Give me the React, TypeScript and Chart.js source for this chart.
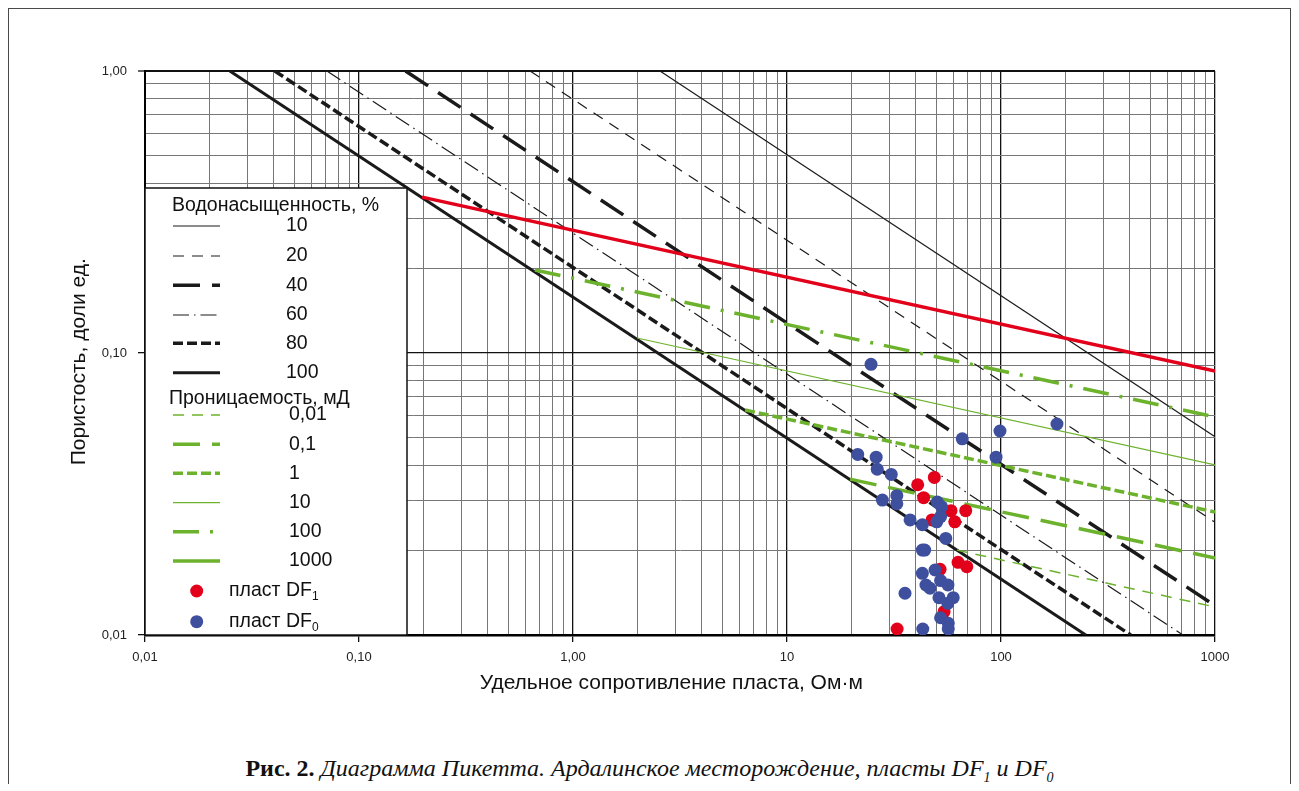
import React, { useEffect, useRef } from 'react';
import { Chart, registerables } from 'chart.js';

Chart.register(...registerables);

// ---------- data ----------
// Water saturation (Archie) lines: start point at porosity 1.0 and end point at the plot edge
const swLevels = ['10', '20', '40', '60', '80', '100'];
const swStart = [[2.55, 1.0], [0.63, 1.0], [0.165, 1.0], [0.0708, 1.0], [0.0404, 1.0], [0.0249, 1.0]];
const swEnd = [[1000, 0.0505], [1000, 0.0251], [1000, 0.0127], [708, 0.01], [404, 0.01], [249, 0.01]];

// Permeability lines (start on the 100 % line, end at the right edge)
const permLevels = ['0,01', '0,1', '1', '10', '100', '1000'];
const permStart = [[62.2, 0.02], [19.7, 0.0357], [6.37, 0.0628], [1.99, 0.113], [0.664, 0.197]];
const permEnd = [[1000, 0.01257], [1000, 0.01875], [1000, 0.0273], [1000, 0.0401], [1000, 0.0593]];

// Red boundary line
const redStart = [0.197, 0.357];
const redEnd = [1000, 0.0863];

// Samples: plast DF1 (red)
const df1Resistivity = [48.8, 40.8, 43.5, 58.4, 68.4, 47.6, 60.8, 63.0, 69.2, 51.9, 54.2, 32.7];
const df1Porosity = [0.0362, 0.0341, 0.0307, 0.0276, 0.0276, 0.0256, 0.0252, 0.0181, 0.01747, 0.0171, 0.0121, 0.0105];

// Samples: plast DF0 (blue)
const df0Resistivity = [24.7, 98.9, 65.9, 94.8, 21.4, 26.1, 26.4, 30.7, 27.9, 32.6, 32.6, 37.6, 42.9, 50.4, 52.8, 52.2, 50.1, 55.2, 42.9, 44.0, 42.9, 49.2, 44.6, 46.6, 52.2, 56.5, 35.6, 51.3, 59.8, 56.4, 52.2, 56.7, 56.7, 43.1, 182.6];
const df0Porosity = [0.0912, 0.0529, 0.0496, 0.0427, 0.0437, 0.0427, 0.0387, 0.0371, 0.0301, 0.0312, 0.0292, 0.0256, 0.0246, 0.0296, 0.0285, 0.0263, 0.0252, 0.022, 0.02, 0.02, 0.01655, 0.017, 0.01504, 0.01465, 0.0156, 0.01504, 0.01406, 0.01356, 0.01356, 0.01295, 0.01151, 0.011, 0.0105, 0.0105, 0.056];

const xTickValues = [0.01, 0.1, 1, 10, 100, 1000];
const xTickLabels = ['0,01', '0,10', '1,00', '10', '100', '1000'];
const yTickValues = [0.01, 0.1, 1];
const yTickLabels = ['0,01', '0,10', '1,00'];

// ---------- styles ----------
const BLACK = '#1a1a1a';
const GREEN = '#6cb22c';
const RED = '#e2001a';
const BLUE = '#3e4f9e';
const THIN = 1.2;
const THICK = 3.5;

const swStyles = [
  { color: BLACK, width: THIN, dash: [] as number[] },
  { color: BLACK, width: THIN, dash: [11, 8] },
  { color: BLACK, width: THICK, dash: [27, 12] },
  { color: BLACK, width: THIN, dash: [16, 5, 1.5, 5] },
  { color: BLACK, width: THICK, dash: [10, 4] },
  { color: BLACK, width: 3, dash: [] as number[] },
];
const permStyles = [
  { color: GREEN, width: 1.5, dash: [11, 8] },
  { color: GREEN, width: THICK, dash: [27, 12] },
  { color: GREEN, width: THICK, dash: [10, 4] },
  { color: GREEN, width: THIN, dash: [] as number[] },
  { color: GREEN, width: THICK, dash: [26, 11, 3, 11] },
  { color: GREEN, width: THICK, dash: [] as number[] },
];

const FONT = '"Liberation Sans", Arial, sans-serif';
const LEGEND_FONT = '19.5px ' + FONT;

function pt(p: number[]) {
  return { x: p[0], y: p[1] };
}

function logGrid(minExp: number, maxExp: number) {
  const out: { value: number }[] = [];
  for (let e = minExp; e < maxExp; e++) {
    for (let k = 1; k < 10; k++) out.push({ value: Number((k * Math.pow(10, e)).toPrecision(6)) });
  }
  out.push({ value: Math.pow(10, maxExp) });
  return out;
}

function isDecade(v: number | undefined) {
  if (v === undefined || v <= 0) return false;
  const l = Math.log10(v);
  return Math.abs(l - Math.round(l)) < 1e-6;
}

function labelFor(values: number[], labels: string[], v: number) {
  const i = values.findIndex((t) => Math.abs(t - v) / t < 1e-6);
  return i >= 0 ? labels[i] : '';
}

const legendPlugin = {
  id: 'pickettLegend',
  afterDatasetsDraw(chart: any) {
    const ctx: CanvasRenderingContext2D = chart.ctx;
    const { left, bottom } = chart.chartArea;
    const bx = left;
    const by = 180;
    const bw = 262;
    const bh = bottom - by;
    ctx.save();
    ctx.fillStyle = '#ffffff';
    ctx.fillRect(bx, by, bw, bh);
    ctx.strokeStyle = '#111';
    ctx.lineWidth = 1.5;
    ctx.setLineDash([]);
    ctx.strokeRect(bx, by, bw, bh);

    ctx.fillStyle = '#111';
    ctx.textBaseline = 'middle';
    ctx.textAlign = 'left';
    ctx.font = LEGEND_FONT;
    ctx.fillText('Водонасыщенность, %', 164, 198);

    const sample = (style: { color: string; width: number; dash: number[] }, y: number) => {
      ctx.save();
      ctx.strokeStyle = style.color;
      ctx.lineWidth = style.width;
      ctx.lineCap = 'butt';
      ctx.setLineDash(style.dash);
      ctx.beginPath();
      ctx.moveTo(165, y);
      ctx.lineTo(212, y);
      ctx.stroke();
      ctx.restore();
    };

    const swRows = [218, 248, 277.3, 307, 335.3, 364.7];
    swLevels.forEach((lab, i) => {
      sample(swStyles[i], swRows[i]);
      ctx.fillStyle = '#111';
      ctx.fillText(lab, 278, swRows[i]);
    });

    ctx.fillText('Проницаемость, мД', 161, 390.3);
    const permRows = [407, 436.3, 465.3, 494.7, 523.7, 553];
    permLevels.forEach((lab, i) => {
      sample(permStyles[i], permRows[i]);
      ctx.fillStyle = '#111';
      ctx.fillText(lab, 281, permRows[i]);
    });

    const pointRows = [
      { y: 583, color: RED, sub: '1' },
      { y: 613.7, color: BLUE, sub: '0' },
    ];
    pointRows.forEach((r) => {
      ctx.fillStyle = r.color;
      ctx.beginPath();
      ctx.arc(188.7, r.y, 6.5, 0, Math.PI * 2);
      ctx.fill();
      ctx.fillStyle = '#111';
      ctx.font = LEGEND_FONT;
      const main = 'пласт DF';
      ctx.fillText(main, 221, r.y);
      const w = ctx.measureText(main).width;
      ctx.font = '12px ' + FONT;
      ctx.fillText(r.sub, 221 + w, r.y + 6);
    });
    ctx.restore();
  },
};

export default function App() {
  const ref = useRef<HTMLCanvasElement>(null);

  useEffect(() => {
    if (!ref.current) return;
    const datasets: any[] = [];

    swLevels.forEach((lab, i) => {
      datasets.push({
        label: 'Sw ' + lab,
        data: [pt(swStart[i]), pt(swEnd[i])],
        showLine: true,
        borderColor: swStyles[i].color,
        borderWidth: swStyles[i].width,
        borderDash: swStyles[i].dash,
        borderCapStyle: 'butt',
        pointRadius: 0,
        order: 5,
      });
    });
    permStart.forEach((s, i) => {
      datasets.push({
        label: 'K ' + permLevels[i],
        data: [pt(s), pt(permEnd[i])],
        showLine: true,
        borderColor: permStyles[i].color,
        borderWidth: permStyles[i].width,
        borderDash: permStyles[i].dash,
        borderCapStyle: 'butt',
        pointRadius: 0,
        order: 4,
      });
    });
    datasets.push({
      label: 'red',
      data: [pt(redStart), pt(redEnd)],
      showLine: true,
      borderColor: RED,
      borderWidth: 3.5,
      borderCapStyle: 'butt',
      pointRadius: 0,
      order: 3,
    });
    datasets.push({
      label: 'пласт DF1',
      data: df1Resistivity.map((x, i) => ({ x, y: df1Porosity[i] })),
      showLine: false,
      pointRadius: 6.5,
      pointBackgroundColor: RED,
      pointBorderWidth: 0,
      order: 2,
    });
    datasets.push({
      label: 'пласт DF0',
      data: df0Resistivity.map((x, i) => ({ x, y: df0Porosity[i] })),
      showLine: false,
      pointRadius: 6.5,
      pointBackgroundColor: BLUE,
      pointBorderWidth: 0,
      order: 1,
    });

    const gridColor = (c: any) => (isDecade(c.tick && c.tick.value) ? '#111111' : '#777777');
    const tickColor = (c: any) => (isDecade(c.tick && c.tick.value) ? '#111111' : 'rgba(0,0,0,0)');

    const chart = new Chart(ref.current, {
      type: 'scatter',
      data: { datasets },
      options: {
        responsive: false,
        animation: false,
        devicePixelRatio: 1,
        layout: { padding: { left: 0, top: 63, right: 76, bottom: 0 } },
        plugins: { legend: { display: false }, tooltip: { enabled: false } },
        scales: {
          x: {
            type: 'logarithmic',
            min: 0.01,
            max: 1000,
            afterBuildTicks: (s: any) => {
              s.ticks = logGrid(-2, 3);
            },
            afterFit: (s: any) => {
              s.height = 70;
            },
            grid: {
              color: gridColor,
              lineWidth: (c: any) => (isDecade(c.tick && c.tick.value) ? 1.3 : 1),
              tickLength: 7,
              tickColor: tickColor,
              tickWidth: 1.3,
            },
            border: { display: true, color: '#000', width: 2.5 },
            ticks: {
              autoSkip: false,
              maxRotation: 0,
              minRotation: 0,
              padding: 8,
              color: '#222',
              font: { family: FONT, size: 13 },
              callback: (v: any) => labelFor(xTickValues, xTickLabels, Number(v)),
            },
            title: {
              display: true,
              text: 'Удельное сопротивление пласта, Ом·м\u00A0\u00A0\u00A0',
              color: '#111',
              font: { family: FONT, size: 21 },
              padding: { top: 0, bottom: 9 },
            },
          },
          y: {
            type: 'logarithmic',
            min: 0.01,
            max: 1,
            afterBuildTicks: (s: any) => {
              s.ticks = logGrid(-2, 0);
            },
            afterFit: (s: any) => {
              s.width = 137;
            },
            grid: {
              color: gridColor,
              lineWidth: (c: any) => {
                const v = c.tick && c.tick.value;
                if (v !== undefined && Math.abs(v - 1) < 1e-9) return 2;
                return isDecade(v) ? 1.3 : 1;
              },
              tickLength: 7,
              tickColor: tickColor,
              tickWidth: 1.3,
            },
            border: { display: true, color: '#000', width: 2 },
            ticks: {
              autoSkip: false,
              padding: 11,
              color: '#222',
              font: { family: FONT, size: 13 },
              callback: (v: any) => labelFor(yTickValues, yTickLabels, Number(v)),
            },
            title: {
              display: true,
              text: 'Пористость, доли ед.\u00A0\u00A0\u00A0',
              color: '#111',
              font: { family: FONT, size: 21 },
              padding: { top: 59, bottom: 0 },
            },
          },
        },
      } as any,
      plugins: [legendPlugin],
    });
    return () => chart.destroy();
  }, []);

  const edge = '#4a4a4a';
  return (
    <div style={{ position: 'relative', width: 1283, height: 776 }}>
      <canvas ref={ref} width={1283} height={697} style={{ position: 'absolute', left: 0, top: 0 }} />
      <div
        style={{
          position: 'absolute',
          left: 0,
          top: 747,
          width: 1283,
          textAlign: 'center',
          fontFamily: '"Liberation Serif", "Times New Roman", serif',
          fontSize: 24,
          lineHeight: '26px',
          color: '#111',
          whiteSpace: 'nowrap',
        }}
      >
        <b>Рис. 2.</b>{' '}
        <i>
          Диаграмма Пикетта. Ардалинское месторождение, пласты DF<sub style={{ fontSize: 14, lineHeight: 0 }}>1</sub> и DF
          <sub style={{ fontSize: 14, lineHeight: 0 }}>0</sub>
        </i>
      </div>
      <div style={{ position: 'absolute', left: -1, top: -1, width: 1285, height: 2, background: edge }} />
      <div style={{ position: 'absolute', left: -1, top: 777, width: 1285, height: 2, background: edge }} />
      <div style={{ position: 'absolute', left: -1, top: -1, width: 2, height: 780, background: edge }} />
      <div style={{ position: 'absolute', left: 1282, top: -1, width: 2, height: 780, background: edge }} />
    </div>
  );
}
